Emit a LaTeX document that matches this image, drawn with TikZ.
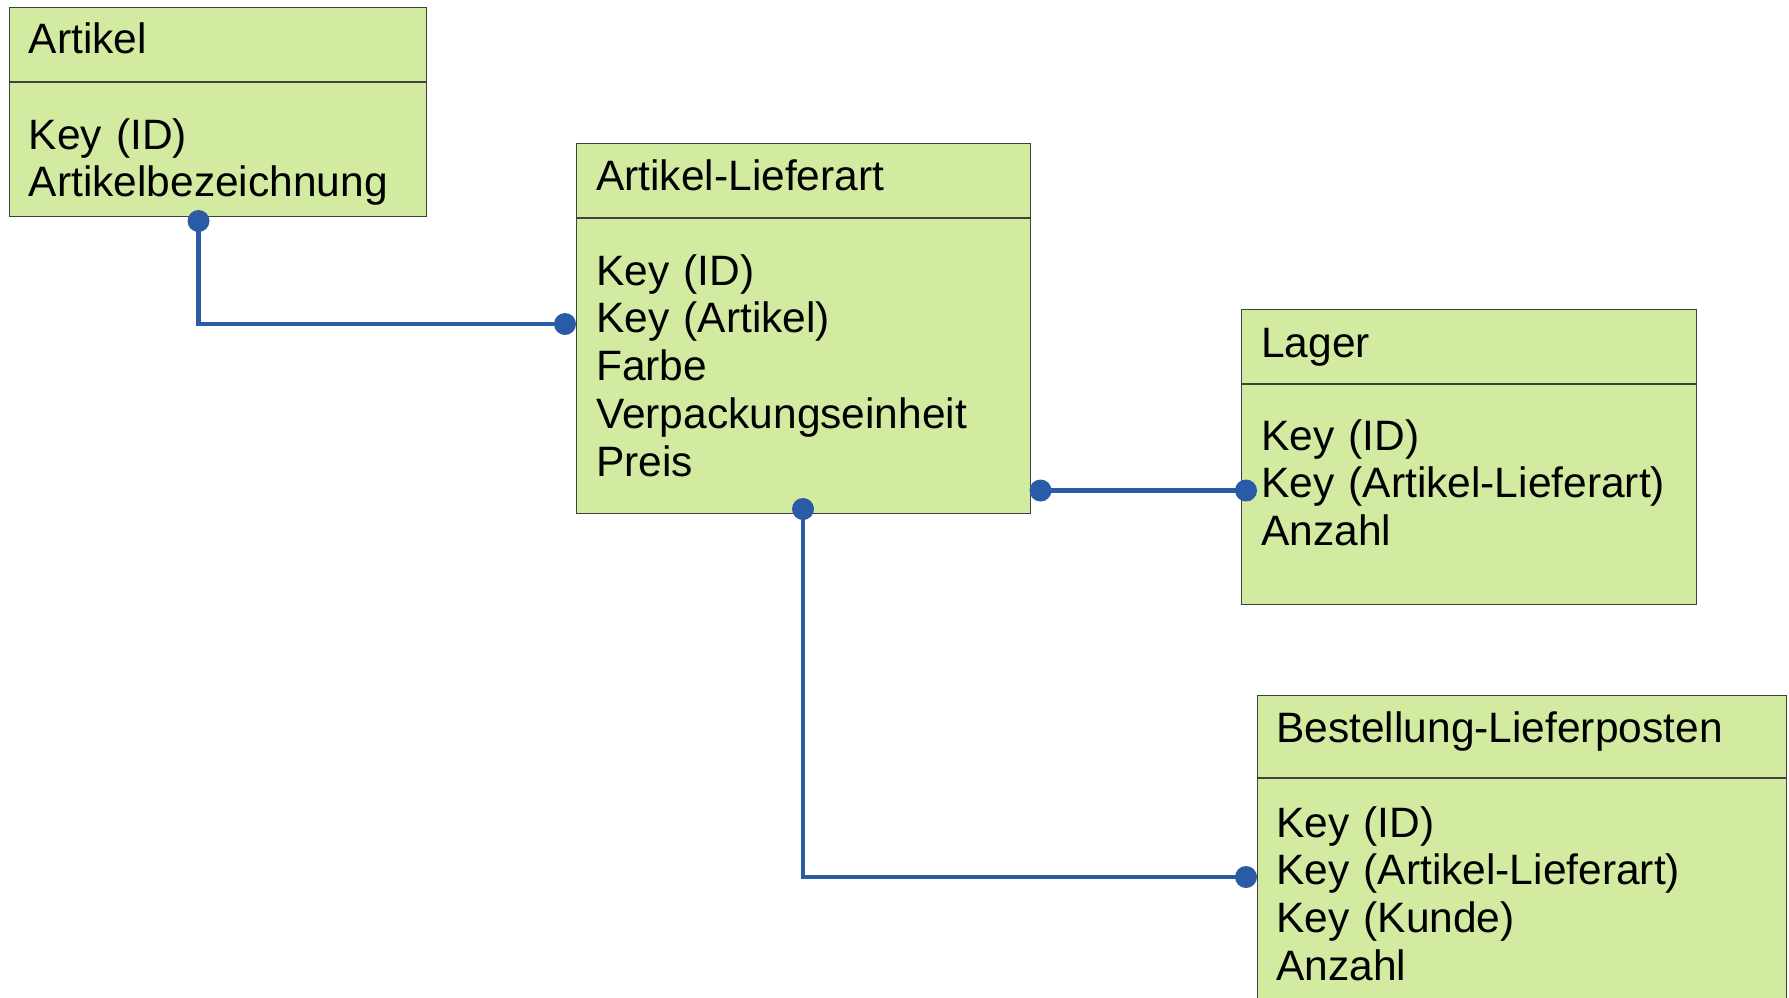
\documentclass[tikz,border=0pt]{standalone}
\usepackage{fontspec}
\setmainfont{Liberation Sans}
\usetikzlibrary{positioning}

\definecolor{tblgreen}{RGB}{211,234,161}
\definecolor{linkblue}{RGB}{42,91,166}

\begin{document}
\begin{tikzpicture}[
		x=1pt, y=-1pt,
		every node/.style={
			font=\fontsize{42.5pt}{47.5pt}\selectfont,
			inner sep=0pt
		},
		tbl/.style={
			rectangle,
			draw=black!75,
			line width=1.2pt,
			fill=tblgreen,
			anchor=north west
		},
		divider/.style={
			draw=black!75,
			line width=1.2pt
		},
		entry/.style={
			anchor=base west,
			text width=480pt,
			align=left,
			text height=32pt,
			text depth=15.5pt
		},
		link/.style={
			draw=linkblue,
			line width=4.5pt
		},
		joint/.style={
			fill=linkblue
		}]

		\useasboundingbox (0,0) rectangle (1789,997);
		\clip (0,0) rectangle (1789,997);

		%tables
		\node[tbl, minimum width=417pt, minimum height=209pt] (artikel) at (9,7) {};
		\draw[divider] ([yshift=-75pt]artikel.north west) -- ([yshift=-75pt]artikel.north east);
		\node[entry] (artikel-t) at (28.5,53.6) {Artikel};
		\node[entry] (a1) at (28.5,149) {Key (ID)};
		\node[entry, below=0pt of a1] (a2) {Artikelbezeichnung};

		\node[tbl, minimum width=454pt, minimum height=370pt] (lieferart) at (576,143) {};
		\draw[divider] ([yshift=-75pt]lieferart.north west) -- ([yshift=-75pt]lieferart.north east);
		\node[entry] (lieferart-t) at (596,190) {Artikel-Lieferart};
		\node[entry] (b1) at (596,285) {Key (ID)};
		\node[entry, below=0pt of b1] (b2) {Key (Artikel)};
		\node[entry, below=0pt of b2] (b3) {Farbe};
		\node[entry, below=0pt of b3] (b4) {Verpackungseinheit};
		\node[entry, below=0pt of b4] (b5) {Preis};

		\node[tbl, minimum width=455pt, minimum height=295pt] (lager) at (1241,309) {};
		\draw[divider] ([yshift=-75pt]lager.north west) -- ([yshift=-75pt]lager.north east);
		\node[entry] (lager-t) at (1261,357) {Lager};
		\node[entry] (c1) at (1261,450) {Key (ID)};
		\node[entry, below=0pt of c1] (c2) {Key (Artikel-Lieferart)};
		\node[entry, below=0pt of c2] (c3) {Anzahl};

		\node[tbl, minimum width=529pt, minimum height=330pt] (bestellung) at (1257,695) {};
		\draw[divider] ([yshift=-83pt]bestellung.north west) -- ([yshift=-83pt]bestellung.north east);
		\node[entry] (bestellung-t) at (1276,742) {Bestellung-Lieferposten};
		\node[entry] (d1) at (1276,837) {Key (ID)};
		\node[entry, below=0pt of d1] (d2) {Key (Artikel-Lieferart)};
		\node[entry, below=0pt of d2] (d3) {Key (Kunde)};
		\node[entry, below=0pt of d3] (d4) {Anzahl};

		%relations
		\coordinate (artikel-fk) at (198.5,221);
		\coordinate (lieferart-in) at (565,324);
		\coordinate (lieferart-out) at (1040.5,490.5);
		\coordinate (lager-in) at (1246,490.5);
		\coordinate (lieferart-down) at (803,509);
		\coordinate (bestellung-in) at (1246,877);

		\draw[link] (artikel-fk) |- (lieferart-in);
		\draw[link] (lieferart-out) -- (lager-in);
		\draw[link] (lieferart-down) |- (bestellung-in);

		\foreach \p in {artikel-fk, lieferart-in, lieferart-out, lager-in, lieferart-down, bestellung-in}
			\fill[joint] (\p) circle (11pt);

	\end{tikzpicture}
\end{document}
